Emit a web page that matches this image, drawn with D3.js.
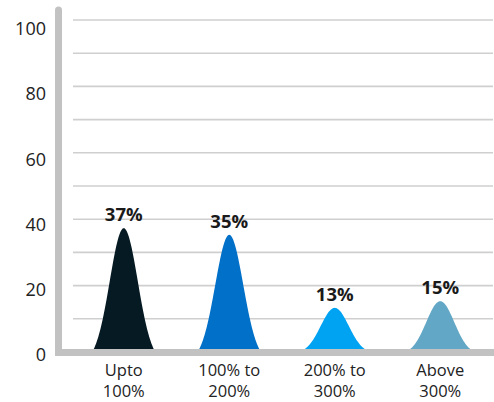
<!DOCTYPE html>
<html>
<head>
<meta charset="utf-8">
<script src="https://cdn.jsdelivr.net/npm/d3@7"></script>
<style>
html,body{margin:0;padding:0;background:#fff;}
svg{display:block;font-family:"Open Sans",sans-serif;}
</style>
</head>
<body>
<svg id="chart" width="494" height="402"></svg>
<script>
const categories = [["Upto","100%"],["100% to","200%"],["200% to","300%"],["Above","300%"]];
const values = [37, 35, 13, 15];
const valueLabels = ["37%","35%","13%","15%"];
const colors = ["#061a24","#0070c8","#00a3f2","#62a7c5"];
const tickValues = [0,20,40,60,80,100];
const gridValues = [10,20,30,40,50,60,70,80,90,100];

const svg = d3.select("#chart");
const x = d3.scaleBand().domain(d3.range(categories.length)).range([71, 493]).padding(0);
const y = d3.scaleLinear().domain([0,100]).range([352, 20]);
const yLab = d3.scaleLinear().domain([0,100]).range([355, 29]);

// gridlines
svg.append("g").selectAll("line").data(gridValues).join("line")
  .attr("x1", 73).attr("x2", 493)
  .attr("y1", d => y(d)).attr("y2", d => y(d))
  .attr("stroke", "#cfcfcf").attr("stroke-width", 1.6);

// peaks
const halfW = 30, sigma = 14;
const e0 = Math.exp(-(halfW*halfW)/(2*sigma*sigma));
function peakPath(i, v) {
  const cx = x(i) + x.bandwidth()/2;
  const base = 349;
  const top = y(v) - 1;
  const h = base - top;
  const pts = [];
  for (let k = -40; k <= 40; k++) {
    const dx = k / 40 * halfW;
    const g = (Math.exp(-(dx*dx)/(2*sigma*sigma)) - e0) / (1 - e0);
    pts.push([cx + dx, base - h * g]);
  }
  return d3.line()(pts) + "Z";
}
svg.append("g").selectAll("path").data(values).join("path")
  .attr("d", (d,i) => peakPath(i, d))
  .attr("fill", (d,i) => colors[i]);

// value labels
svg.append("g").selectAll("text").data(values).join("text")
  .attr("x", (d,i) => x(i) + x.bandwidth()/2)
  .attr("y", d => y(d) - 8)
  .attr("text-anchor", "middle")
  .attr("font-weight", "bold")
  .attr("font-size", 18.5)
  .attr("fill", "#1a1a1a")
  .text((d,i) => valueLabels[i]);

// axes lines
svg.append("line").attr("x1", 58.5).attr("x2", 58.5).attr("y1", 10).attr("y2", 352)
  .attr("stroke", "#c2c2c2").attr("stroke-width", 7).attr("stroke-linecap", "round");
svg.append("line").attr("x1", 55).attr("x2", 494).attr("y1", 352.5).attr("y2", 352.5)
  .attr("stroke", "#c2c2c2").attr("stroke-width", 7);

// y tick labels
const yAxis = d3.axisLeft(yLab).tickValues(tickValues).tickSize(0).tickPadding(0);
const ga = svg.append("g").attr("transform", "translate(46,0)").call(yAxis);
ga.select(".domain").remove();
ga.selectAll("text").attr("font-size", 18).attr("fill", "#222")
  .attr("font-family", "'Open Sans',sans-serif");

// category labels
const cg = svg.append("g").selectAll("text").data(categories).join("text")
  .attr("text-anchor", "middle")
  .attr("font-size", 16.5)
  .attr("fill", "#222");
cg.each(function(d,i){
  const t = d3.select(this);
  d.forEach((line, j) => {
    t.append("tspan").attr("x", x(i) + x.bandwidth()/2).attr("y", 376 + j*21).text(line);
  });
});
</script>
</body>
</html>
